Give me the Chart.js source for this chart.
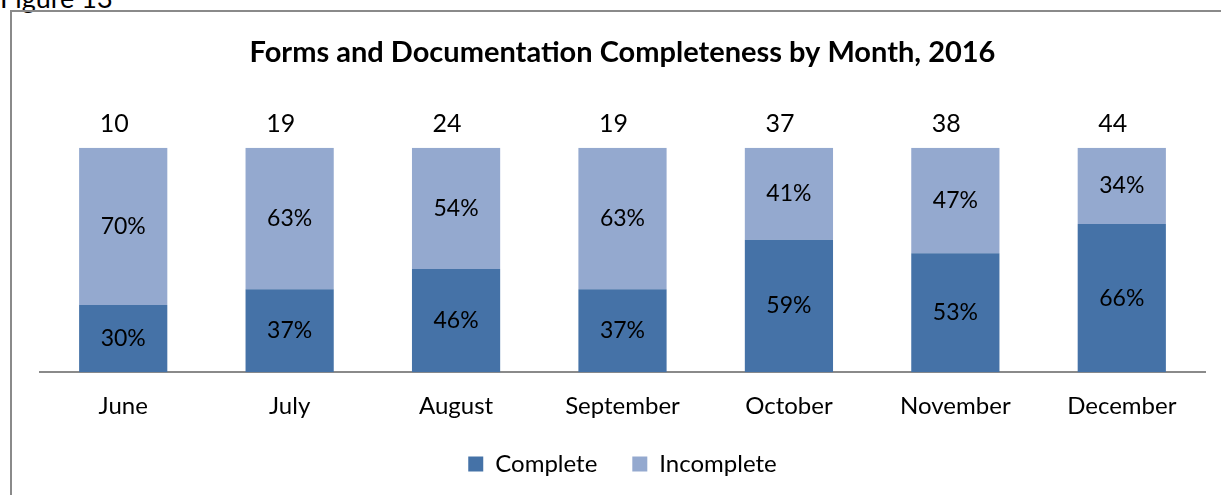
<!DOCTYPE html>
<html lang="en">
<head>
    <meta charset="UTF-8">
    <title>Forms and Documentation Completeness by Month, 2016</title>
    <script src="https://cdn.jsdelivr.net/npm/chart.js@4.4.1/dist/chart.umd.min.js"></script>
    <style>
        body { margin: 0; background: #fff; font-family: Lato, sans-serif; overflow: hidden; }
        #fig { position: absolute; left: 0; top: -19px; font-size: 27px; color: #000; }
        #frame { position: absolute; left: 10px; top: 10px; width: 1400px; height: 600px; border: 2px solid #8a8a8a; }
        #wrap { position: absolute; left: 0; top: 0; width: 1221px; height: 495px; }
    </style>
</head>
<body>
    <div id="fig">Figure 13</div>
    <div id="frame"></div>
    <div id="wrap"><canvas id="myChart"></canvas></div>
    <script>
        const months     = ['June', 'July', 'August', 'September', 'October', 'November', 'December'];
        const complete   = [30, 37, 46, 37, 59, 53, 66];
        const incomplete = [70, 63, 54, 63, 41, 47, 34];
        const totals     = [10, 19, 24, 19, 37, 38, 44];

        const labelPlugin = {
            id: 'labels',
            afterLayout(chart) {
                // pull the legend up closer to the month labels
                chart.legend.top -= 24;
                chart.legend.bottom -= 24;
            },
            afterDatasetsDraw(chart) {
                const ctx = chart.ctx;
                ctx.save();
                ctx.fillStyle = '#000';
                ctx.textAlign = 'center';
                ctx.textBaseline = 'middle';
                ctx.font = '23px Lato';
                chart.data.datasets.forEach((ds, i) => {
                    chart.getDatasetMeta(i).data.forEach((bar, j) => {
                        const mid = (bar.y + bar.base) / 2;
                        ctx.fillText(ds.data[j] + '%', bar.x, mid);
                    });
                });
                ctx.font = '25px Lato';
                const top = chart.scales.y.getPixelForValue(100);
                chart.getDatasetMeta(0).data.forEach((bar, j) => {
                    ctx.fillText(totals[j], bar.x - 9, top - 24);
                });
                ctx.restore();
            }
        };

        const ctx = document.getElementById('myChart').getContext('2d');
        const myChart = new Chart(ctx, {
            type: 'bar',
            data: {
                labels: months,
                datasets: [{
                    label: 'Complete',
                    data: complete,
                    backgroundColor: '#4572a7'
                }, {
                    label: 'Incomplete',
                    data: incomplete,
                    backgroundColor: '#94a9cf'
                }]
            },
            options: {
                responsive: true,
                maintainAspectRatio: false,
                animation: false,
                datasets: { bar: { categoryPercentage: 1, barPercentage: 0.53 } },
                layout: { padding: { left: 40, right: 16, top: 0, bottom: -15 } },
                scales: {
                    x: {
                        stacked: true,
                        grid: { display: false, drawTicks: false },
                        border: { display: true, color: '#8a8a8a', width: 2 },
                        ticks: { color: '#000', font: { family: 'Lato', size: 24 }, padding: 20 }
                    },
                    y: {
                        stacked: true,
                        display: false,
                        min: 0,
                        max: 100
                    }
                },
                plugins: {
                    title: {
                        display: true,
                        text: 'Forms and Documentation Completeness by Month, 2016',
                        color: '#000',
                        font: { family: 'Lato', size: 29, weight: 'bold' },
                        padding: { top: 35, bottom: 78 }
                    },
                    legend: {
                        position: 'bottom',
                        labels: {
                            color: '#000',
                            font: { family: 'Lato', size: 24 },
                            boxWidth: 15,
                            boxHeight: 15,
                            padding: 35
                        }
                    },
                    tooltip: { enabled: false }
                }
            },
            plugins: [labelPlugin]
        });
    </script>
</body>
</html>
